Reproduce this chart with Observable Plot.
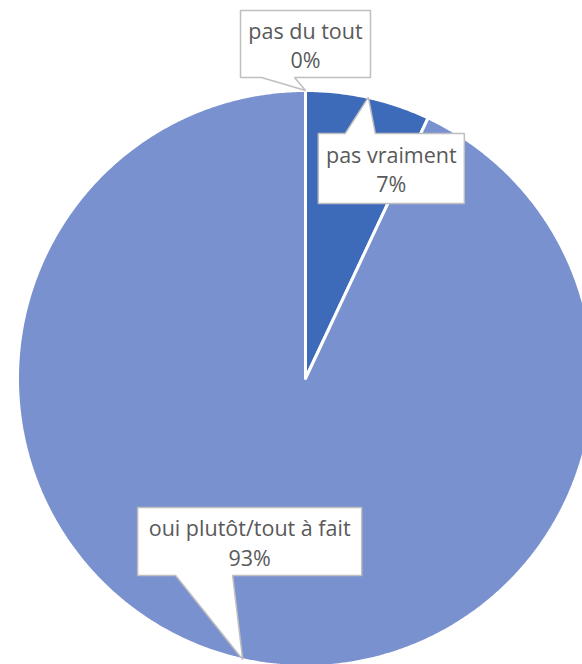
<!DOCTYPE html>
<html>
<head>
<meta charset="utf-8">
<script src="https://cdn.jsdelivr.net/npm/d3@7"></script>
<script src="https://cdn.jsdelivr.net/npm/@observablehq/plot@0.6"></script>
<style>
  html, body { margin: 0; padding: 0; background: #fff; overflow: hidden; }
  #chart svg { display: block; overflow: visible; }
</style>
</head>
<body>
<div id="chart"></div>
<script>
// ---- data ----
const categories = ["pas du tout", "pas vraiment", "oui plutôt/tout à fait"];
const values = [0, 7, 93];
const percentLabels = ["0%", "7%", "93%"];
const colors = ["#3d6bba", "#3d6bba", "#7a91cf"];

// ---- layout ----
const W = 582, H = 664;
const cx = 305, cy = 378, R = 288;
const xRange = [cx - R, cx + R];
const yRange = [cy + R, cy - R];
// callout boxes, in pixels relative to the tip on the slice's arc
const callouts = [
  {box: [-65, -80, 65, -13], base: [-44, -11]},
  {box: [-50, 36, 96, 106], base: [-23, 7]},
  {box: [-105, -152, 119, -84], base: [-67, -10]}
];

const sx = d3.scaleLinear([-1, 1], xRange);
const sy = d3.scaleLinear([-1, 1], yRange);

const total = d3.sum(values);
const slices = [];
let acc = 0;
values.forEach((v, i) => {
  const a0 = acc / total * 2 * Math.PI;
  acc += v;
  const a1 = acc / total * 2 * Math.PI;
  slices.push({i, a0, a1, mid: (a0 + a1) / 2});
});

// slice polygons in data units (unit circle, angle clockwise from top)
const slicePts = [];
slices.forEach(s => {
  if (s.a1 - s.a0 <= 0) return;
  const n = Math.max(2, Math.ceil((s.a1 - s.a0) / (Math.PI / 180) * 2));
  slicePts.push({k: s.i, x: 0, y: 0, c: colors[s.i]});
  for (let j = 0; j <= n; j++) {
    const a = s.a0 + (s.a1 - s.a0) * j / n;
    slicePts.push({k: s.i, x: Math.sin(a), y: Math.cos(a), c: colors[s.i]});
  }
  slicePts.push({k: s.i, x: 0, y: 0, c: colors[s.i]});
});

// callout polygons
const calloutPts = [];
const labelPts = [];
slices.forEach((s, i) => {
  const tx = sx(Math.sin(s.mid)), ty = sy(Math.cos(s.mid));
  const c = callouts[i];
  const [l, t, r, b] = c.box;
  const [b0, b1] = c.base;
  let pts;
  if (b <= 0) {
    pts = [[l, t], [r, t], [r, b], [b1, b], [0, 0], [b0, b], [l, b], [l, t]];
  } else {
    pts = [[l, t], [b0, t], [0, 0], [b1, t], [r, t], [r, b], [l, b], [l, t]];
  }
  pts.forEach(([px, py]) => calloutPts.push({k: i, x: sx.invert(tx + px), y: sy.invert(ty + py)}));
  labelPts.push({
    x: sx.invert(tx + (l + r) / 2),
    y: sy.invert(ty + (t + b) / 2),
    text: categories[i] + "\n" + percentLabels[i]
  });
});

const plot = Plot.plot({
  width: W,
  height: H,
  margin: 0,
  x: {domain: [-1, 1], range: xRange, axis: null},
  y: {domain: [-1, 1], range: yRange, axis: null},
  marks: [
    Plot.line(slicePts, {x: "x", y: "y", z: "k", fill: "c", stroke: "white", strokeWidth: 3, strokeLinejoin: "miter", curve: "linear"}),
    Plot.line(calloutPts, {x: "x", y: "y", z: "k", fill: "white", stroke: "#bfbfbf", strokeWidth: 1.5, strokeLinejoin: "miter", curve: "linear"}),
    Plot.text(labelPts, {x: "x", y: "y", text: "text", fill: "#595959", fontSize: 21.5, fontFamily: "'Open Sans', sans-serif", lineHeight: 1.36, lineAnchor: "middle", textAnchor: "middle"})
  ]
});
document.getElementById("chart").appendChild(plot);
</script>
</body>
</html>
